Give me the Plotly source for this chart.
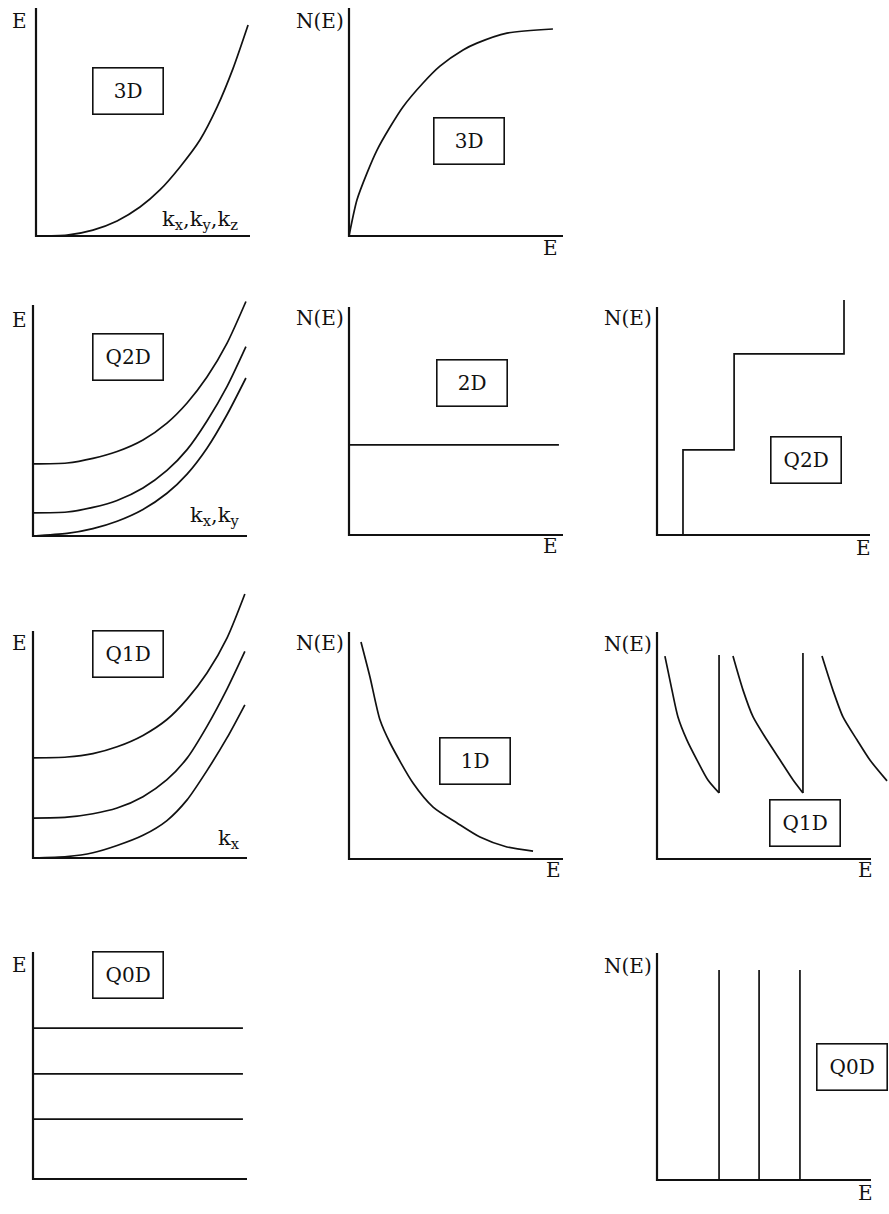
import plotly.graph_objects as go

FIG_W, FIG_H = 889, 1214
FONT = "DejaVu Serif"
INK = "#111111"
AXIS_W = 2.2
CURVE_W = 1.7

# ---------------- data (arbitrary units, 0-100 along each drawn axis) ----------------
# 3D bulk: parabolic dispersion and square-root density of states
k_3d = [0, 14.5, 26.6, 37.9, 48.6, 57.9, 67.3, 76.6, 84.6, 92.1, 99.1]
E_3d = [0, 0.4, 2.6, 6.6, 12.7, 20.2, 30.3, 42.1, 56.5, 73.5, 92.5]
dosE_3d = [0, 3.7, 8.4, 13.1, 19.2, 25.2, 34.6, 42.5, 53.3, 59.8, 73.8, 95.3]
dos_3d = [0, 15.8, 27.6, 37.7, 47.8, 56.6, 67.1, 74.5, 81.6, 84.6, 89.0, 90.8]

# Quasi-2D: three subbands E(kx, ky)
k_q2d = [0, 15.9, 28.0, 39.3, 51.4, 62.6, 72.0, 81.3, 90.7, 99.5]
E_q2d_1 = [0, 1.1, 3.2, 6.4, 11.5, 18.5, 26.8, 38.0, 52.6, 68.4]
E_q2d_2 = [10.0, 10.4, 12.4, 15.4, 20.8, 28.4, 37.4, 49.8, 64.8, 82.0]
E_q2d_3 = [31.2, 31.6, 33.6, 36.6, 41.6, 48.9, 57.6, 68.8, 83.5, 101.5]

# Ideal 2D: constant density of states
dos_2d_level = 39.5
dos_2d_Emax = 98.1

# Quasi-2D staircase: subband edges and plateau heights
q2d_edges = [12.2, 36.2, 87.8]
q2d_levels = [37.3, 79.4, 103.1]

# Quasi-1D: three subbands E(kx)
k_q1d = [0, 15.9, 28.0, 39.3, 51.4, 62.6, 72.0, 81.3, 90.7, 99.0]
E_q1d_1 = [0, 0.6, 2.3, 5.5, 10.0, 16.5, 25.6, 38.5, 53.0, 67.5]
E_q1d_2 = [17.6, 18.0, 19.5, 22.0, 27.0, 34.5, 44.0, 58.0, 74.5, 91.0]
E_q1d_3 = [44.1, 44.5, 46.0, 49.0, 54.0, 61.0, 70.0, 81.5, 97.0, 116.3]

# Ideal 1D: inverse square-root density of states
dosE_1d = [5.6, 9.8, 14.5, 19.2, 29.9, 39.3, 50.5, 61.2, 73.8, 86.0]
dos_1d = [95.6, 80.2, 61.2, 51.1, 33.5, 22.9, 15.9, 9.7, 5.3, 3.5]

# Quasi-1D: saw-tooth density of states, one branch per subband
q1d_E_1 = [3.7, 7.0, 9.8, 14.0, 18.7, 23.8, 29.0]
q1d_N_1 = [89.4, 74.4, 62.6, 52.4, 43.6, 34.8, 29.1]
q1d_E_2 = [35.5, 40.2, 44.9, 51.4, 57.5, 63.6, 68.2]
q1d_N_2 = [89.4, 74.4, 62.6, 52.4, 43.6, 34.8, 29.1]
q1d_E_3 = [77.1, 82.2, 86.9, 93.5, 99.5, 107.5]
q1d_N_3 = [89.4, 74.4, 62.6, 52.4, 43.6, 34.4]
q1d_jump_top = [89.9, 90.7]

# Quasi-0D: discrete levels and delta-like density of states
q0d_levels = [26.4, 46.3, 66.5]
q0d_level_len = 98.1
q0d_delta_E = [29.0, 47.7, 66.8]
q0d_delta_h = [92.5, 92.5, 92.5]

# ---------------- panel frames (pixel box of each drawn axis pair) ----------------
# name: (left, top, right, bottom)
FRAMES = {
    "A": (36, 8, 250, 236),
    "B": (349, 8, 563, 236),
    "C": (33, 305, 247, 536),
    "D": (349, 307, 563, 535),
    "E": (657, 307, 870, 535),
    "F": (33, 631, 247, 858),
    "G": (349, 632, 563, 859),
    "H": (657, 632, 871, 859),
    "I": (33, 952, 247, 1179),
    "J": (657, 953, 871, 1180),
}

fig = go.Figure()
axis_ids = {}
layout_axes = {}

for i, (name, (L, T, R, B)) in enumerate(FRAMES.items(), start=1):
    W, H = R - L, B - T
    pl, pr = min(14, L), min(20, FIG_W - R)
    pt, pb = min(44, T), min(14, FIG_H - B)
    suffix = "" if i == 1 else str(i)
    common = dict(visible=False, fixedrange=True, showgrid=False, zeroline=False)
    layout_axes["xaxis" + suffix] = dict(
        domain=[(L - pl) / FIG_W, (R + pr) / FIG_W],
        range=[-pl / W * 100, 100 + pr / W * 100],
        anchor="y" + suffix, **common)
    layout_axes["yaxis" + suffix] = dict(
        domain=[1 - (B + pb) / FIG_H, 1 - (T - pt) / FIG_H],
        range=[-pb / H * 100, 100 + pt / H * 100],
        anchor="x" + suffix, **common)
    axis_ids[name] = ("x" + suffix, "y" + suffix)


def line(panel, xs, ys, width=CURVE_W, smooth=False):
    xa, ya = axis_ids[panel]
    fig.add_trace(go.Scatter(
        x=xs, y=ys, mode="lines", xaxis=xa, yaxis=ya, hoverinfo="skip",
        line=dict(color=INK, width=width,
                  shape="spline" if smooth else "linear", smoothing=0.7),
    ))


# L-shaped coordinate axes in every panel
for name in FRAMES:
    line(name, [0, 0, 100], [100, 0, 0], width=AXIS_W)

# 3D
line("A", k_3d, E_3d, smooth=True)
line("B", dosE_3d, dos_3d, smooth=True)

# Quasi-2D dispersion
for band in (E_q2d_1, E_q2d_2, E_q2d_3):
    line("C", k_q2d, band, smooth=True)

# 2D constant DOS
line("D", [0, dos_2d_Emax], [dos_2d_level, dos_2d_level])

# Quasi-2D staircase DOS
stair_x, stair_y = [q2d_edges[0]], [0]
for j, edge in enumerate(q2d_edges):
    stair_x += [edge]
    stair_y += [q2d_levels[j]]
    if j + 1 < len(q2d_edges):
        stair_x += [q2d_edges[j + 1]]
        stair_y += [q2d_levels[j]]
line("E", stair_x, stair_y)

# Quasi-1D dispersion
for band in (E_q1d_1, E_q1d_2, E_q1d_3):
    line("F", k_q1d, band, smooth=True)

# 1D DOS
line("G", dosE_1d, dos_1d, smooth=True)

# Quasi-1D saw-tooth DOS
branches = [(q1d_E_1, q1d_N_1), (q1d_E_2, q1d_N_2), (q1d_E_3, q1d_N_3)]
for j, (es, ns) in enumerate(branches):
    line("H", es, ns, smooth=True)
    if j < len(q1d_jump_top):
        line("H", [es[-1], es[-1]], [ns[-1], q1d_jump_top[j]])

# Quasi-0D levels
for lev in q0d_levels:
    line("I", [0, q0d_level_len], [lev, lev])

# Quasi-0D delta DOS
for e, h in zip(q0d_delta_E, q0d_delta_h):
    line("J", [e, e], [0, h])

# ---------------- text ----------------
annotations = []


def text(t, cx, cy, size=20, box=False):
    a = dict(
        text=t, x=cx / FIG_W, y=1 - cy / FIG_H, xref="paper", yref="paper",
        xanchor="center", yanchor="middle", showarrow=False,
        font=dict(family=FONT, size=size, color=INK),
    )
    if box:
        a.update(bordercolor=INK, borderwidth=1.6, borderpad=0,
                 width=69, height=45, bgcolor="rgba(0,0,0,0)", align="center")
    annotations.append(a)


# axis titles
for cx, cy in [(19, 21), (19, 320), (19, 643), (19, 965)]:
    text("E", cx, cy)
for cx, cy in [(320, 21), (320, 318), (628, 318), (320, 643), (628, 644), (628, 966)]:
    text("N(E)", cx, cy)
for cx, cy in [(550, 248), (550, 546), (863, 548), (553, 870), (865, 870), (865, 1193)]:
    text("E", cx, cy)

text("k<sub>x</sub>,k<sub>y</sub>,k<sub>z</sub>", 200, 220, size=21)
text("k<sub>x</sub>,k<sub>y</sub>", 214, 516, size=21)
text("k<sub>x</sub>", 229, 839, size=21)

# dimensionality tags
for t, cx, cy in [("3D", 128, 91), ("3D", 469, 141), ("Q2D", 128, 357),
                  ("2D", 472, 383), ("Q2D", 806, 460), ("Q1D", 128, 654),
                  ("1D", 475, 761), ("Q1D", 805, 823), ("Q0D", 128, 975),
                  ("Q0D", 852, 1067)]:
    text(t, cx, cy, box=True)

fig.update_layout(
    width=FIG_W, height=FIG_H,
    margin=dict(l=0, r=0, t=0, b=0),
    paper_bgcolor="white", plot_bgcolor="rgba(0,0,0,0)",
    showlegend=False,
    annotations=annotations,
    **layout_axes,
)

fig.write_html("out.html", config={"displayModeBar": False})
